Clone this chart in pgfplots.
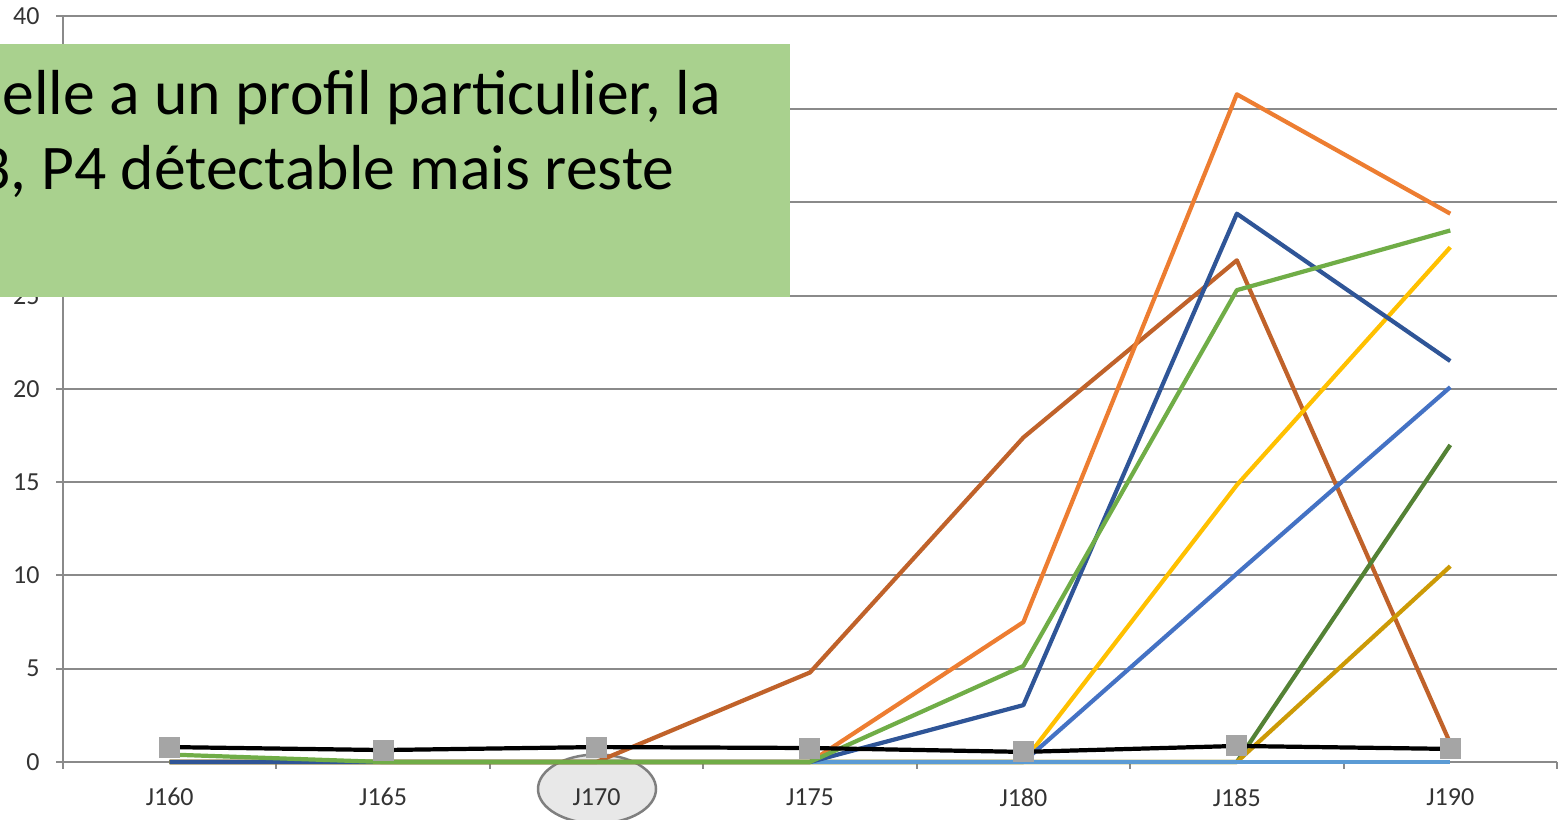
\documentclass[border=0pt]{standalone}
\usepackage{fontspec}
\setmainfont{Carlito}
\usepackage{pgfplots}
\pgfplotsset{compat=1.18}
\definecolor{gridgray}{HTML}{8A8A8A}
\definecolor{labelgray}{HTML}{333333}
\definecolor{cbrown}{HTML}{C0622A}
\definecolor{corange}{HTML}{ED7D31}
\definecolor{cyellow}{HTML}{FFC000}
\definecolor{cblue}{HTML}{4472C4}
\definecolor{cdkgreen}{HTML}{548235}
\definecolor{cgold}{HTML}{CC9A06}
\definecolor{cltblue}{HTML}{5B9BD5}
\definecolor{cdkblue}{HTML}{2F5597}
\definecolor{cgreen}{HTML}{70AD47}
\definecolor{markgray}{HTML}{A5A5A5}
\definecolor{boxgreen}{HTML}{A9D18E}
\definecolor{ellfill}{HTML}{E8E8E8}
\definecolor{elldraw}{HTML}{7F7F7F}
\begin{document}
\begin{tikzpicture}[x=1cm,y=1cm]
\fill[ellfill, draw=elldraw, line width=0.025cm] (5.97,0.31) ellipse [x radius=0.59cm, y radius=0.345cm];
\begin{axis}[
  at={(0.63cm,0.58cm)}, anchor=south west,
  scale only axis, width=14.94cm, height=7.46cm,
  xmin=-0.5, xmax=6.5, ymin=0, ymax=40,
  axis x line*=bottom, axis y line*=left,
  axis line style={gridgray, line width=0.02cm},
  xtick={-0.5,0.5,...,6.5},
  xticklabels={J160,J165,J170,J175,J180,J185,J190},
  x tick label as interval,
  ytick={0,5,...,40},
  ymajorgrids,
  grid style={gridgray, line width=0.02cm},
  tick align=outside,
  major tick length=0.07cm,
  tick style={gridgray, line width=0.02cm},
  ticklabel style={font=\fontsize{7.4}{8.9}\selectfont, text=labelgray},
  /pgf/number format/assume math mode=true,
  yticklabel style={xshift=-0.04cm},
  xticklabel style={yshift=-0.07cm},
  every axis plot/.append style={line width=1.2pt, line join=round, mark=none},
  clip=false,
]
\addplot[cbrown] coordinates {(0,0) (1,0) (2,0) (3,4.8) (4,17.4) (5,26.9) (6,1.0)};
\addplot[corange] coordinates {(0,0) (1,0) (2,0) (3,0) (4,7.5) (5,35.8) (6,29.4)};
\addplot[cyellow] coordinates {(0,0) (1,0) (2,0) (3,0) (4,0) (5,14.85) (6,27.6)};
\addplot[cblue] coordinates {(0,0) (1,0) (2,0) (3,0) (4,0) (5,10.1) (6,20.1)};
\addplot[cdkgreen] coordinates {(0,0) (1,0) (2,0) (3,0) (4,0) (5,0) (6,17.0)};
\addplot[cgold] coordinates {(0,0) (1,0) (2,0) (3,0) (4,0) (5,0) (6,10.5)};
\addplot[cltblue] coordinates {(0,0) (1,0) (2,0) (3,0) (4,0) (5,0) (6,0)};
\addplot[cdkblue] coordinates {(0,0) (1,0) (2,0) (3,0) (4,3.05) (5,29.4) (6,21.5)};
\addplot[cgreen] coordinates {(0,0.4) (1,0) (2,0) (3,0) (4,5.15) (5,25.3) (6,28.5)};
\addplot[black, mark=square*, mark size=0.1cm, mark options={fill=markgray, draw=markgray, line width=0pt}] coordinates {(0,0.8) (1,0.64) (2,0.8) (3,0.75) (4,0.54) (5,0.86) (6,0.70)};
\end{axis}
\fill[boxgreen] (0,5.23) rectangle (7.90,7.76);
\node[anchor=base west, inner sep=0, font=\fontsize{18.1}{21.7}\selectfont] at (0.02,7.05) {elle a un profil particulier, la};
\node[anchor=base west, inner sep=0, font=\fontsize{18.1}{21.7}\selectfont] at (-0.22,6.30) {3, P4 détectable mais reste};
\pgfresetboundingbox
\useasboundingbox (0,0) rectangle (15.58,8.20);
\end{tikzpicture}
\end{document}
